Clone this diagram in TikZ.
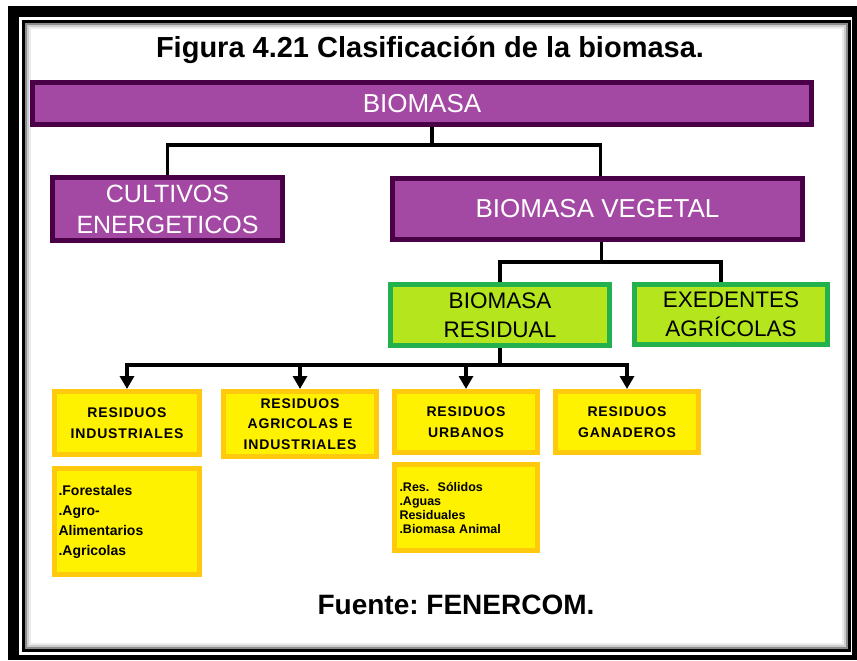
\documentclass[tikz,border=0pt]{standalone}
\usepackage{fontspec}
\setmainfont{Liberation Sans}
\usetikzlibrary{arrows.meta}

\definecolor{boxarea}{HTML}{A349A4}
\definecolor{boxedge}{HTML}{4A0046}
\definecolor{leafarea}{HTML}{B5E61D}
\definecolor{leafedge}{HTML}{22B14C}
\definecolor{sunarea}{HTML}{FFF200}
\definecolor{sunedge}{HTML}{FFC90E}
\frenchspacing

\begin{document}
\begin{tikzpicture}[x=1pt,y=-1pt,
  purplebox/.style={draw=boxedge, fill=boxarea, line width=5pt, text=white, align=center, inner sep=0pt, font=\fontsize{25}{31}\selectfont},
  greenbox/.style={draw=leafedge, fill=leafarea, line width=5pt, align=center, inner sep=0pt, font=\fontsize{22.5}{29}\selectfont},
  yellowbox/.style={draw=sunedge, fill=sunarea, line width=5pt, align=center, inner sep=0pt, font=\bfseries\fontsize{14}{20.5}\selectfont\addfontfeature{LetterSpace=6}},
  listbox/.style={draw=sunedge, fill=sunarea, line width=5pt, align=left, inner sep=0pt, font=\bfseries\fontsize{14}{20}\selectfont},
  conn/.style={line width=3.5pt},
  arr/.style={conn, -{Triangle[width=14pt,length=13pt]}}]
\useasboundingbox (0,0) rectangle (857,661);
% marco
\fill (8,6) rectangle (857,660);
\fill[white] (19,17) rectangle (852,655);
\draw[line width=3pt] (23.5,21.5) rectangle (849,650);
\draw[black!45, line width=2pt] (26,24) rectangle (846.5,647.5);
\draw[black!20, line width=2pt] (28,26) rectangle (844.5,645.5);
\draw[black!8, line width=2pt] (30,28) rectangle (842.5,643.5);

\node[anchor=base] (titulo) at (430,58) {\bfseries\fontsize{29}{31}\selectfont Figura 4.21 Clasificación de la biomasa.};

\node[purplebox, minimum width=779, minimum height=42, font=\fontsize{26}{31}\selectfont] (biomasa) at (422,103.5) {BIOMASA};
\node[purplebox, minimum width=230, minimum height=63] (cultivos) at (167.5,209) {CULTIVOS\\ENERGETICOS};
\node[purplebox, minimum width=410, minimum height=61, font=\fontsize{26}{31}\selectfont] (vegetal) at (597.5,209) {BIOMASA VEGETAL};

\node[greenbox, minimum width=219, minimum height=61] (residual) at (500,315) {BIOMASA\\RESIDUAL};
\node[greenbox, minimum width=193, minimum height=60] (exedentes) at (731,314.5) {EXEDENTES\\AGRÍCOLAS};

\node[yellowbox, minimum width=145, minimum height=63] (rind) at (127,423) {RESIDUOS\\INDUSTRIALES};
\node[yellowbox, minimum width=153, minimum height=65] (ragri) at (300,424) {RESIDUOS\\AGRICOLAS E\\INDUSTRIALES};
\node[yellowbox, minimum width=143, minimum height=61] (rurb) at (466,422) {RESIDUOS\\URBANOS};
\node[yellowbox, minimum width=143, minimum height=61] (rgan) at (627,422) {RESIDUOS\\GANADEROS};

\node[listbox, minimum width=145, minimum height=106, text width=137] (lind) at (127,521.5) {.Forestales\\.Agro-\\Alimentarios\\.Agricolas};
\node[listbox, minimum width=143, minimum height=86, text width=133, font=\bfseries\fontsize{12.5}{14}\selectfont] (lurb) at (466,507.5) {.Res.\ \ Sólidos\\.Aguas\\Residuales\\.Biomasa Animal};

\node[anchor=base] (fuente) at (456,614) {\bfseries\fontsize{28}{30}\selectfont Fuente: FENERCOM.};

\draw[conn] ([xshift=10]biomasa.south) -- ++(0,18) -| (cultivos.north);
\draw[conn] ([xshift=10]biomasa.south) -- ++(0,18) -| ([xshift=3]vegetal.north);
\draw[conn] ([xshift=4]vegetal.south) -- ++(0,20) -| (residual.north);
\draw[conn] ([xshift=4]vegetal.south) -- ++(0,20) -| ([xshift=-10]exedentes.north);
\draw[arr] (residual.south) -- ++(0,17) -| (rind.north);
\draw[arr] (residual.south) -- ++(0,17) -| (ragri.north);
\draw[arr] (residual.south) -- ++(0,17) -| (rurb.north);
\draw[arr] (residual.south) -- ++(0,17) -| (rgan.north);
\end{tikzpicture}
\end{document}
